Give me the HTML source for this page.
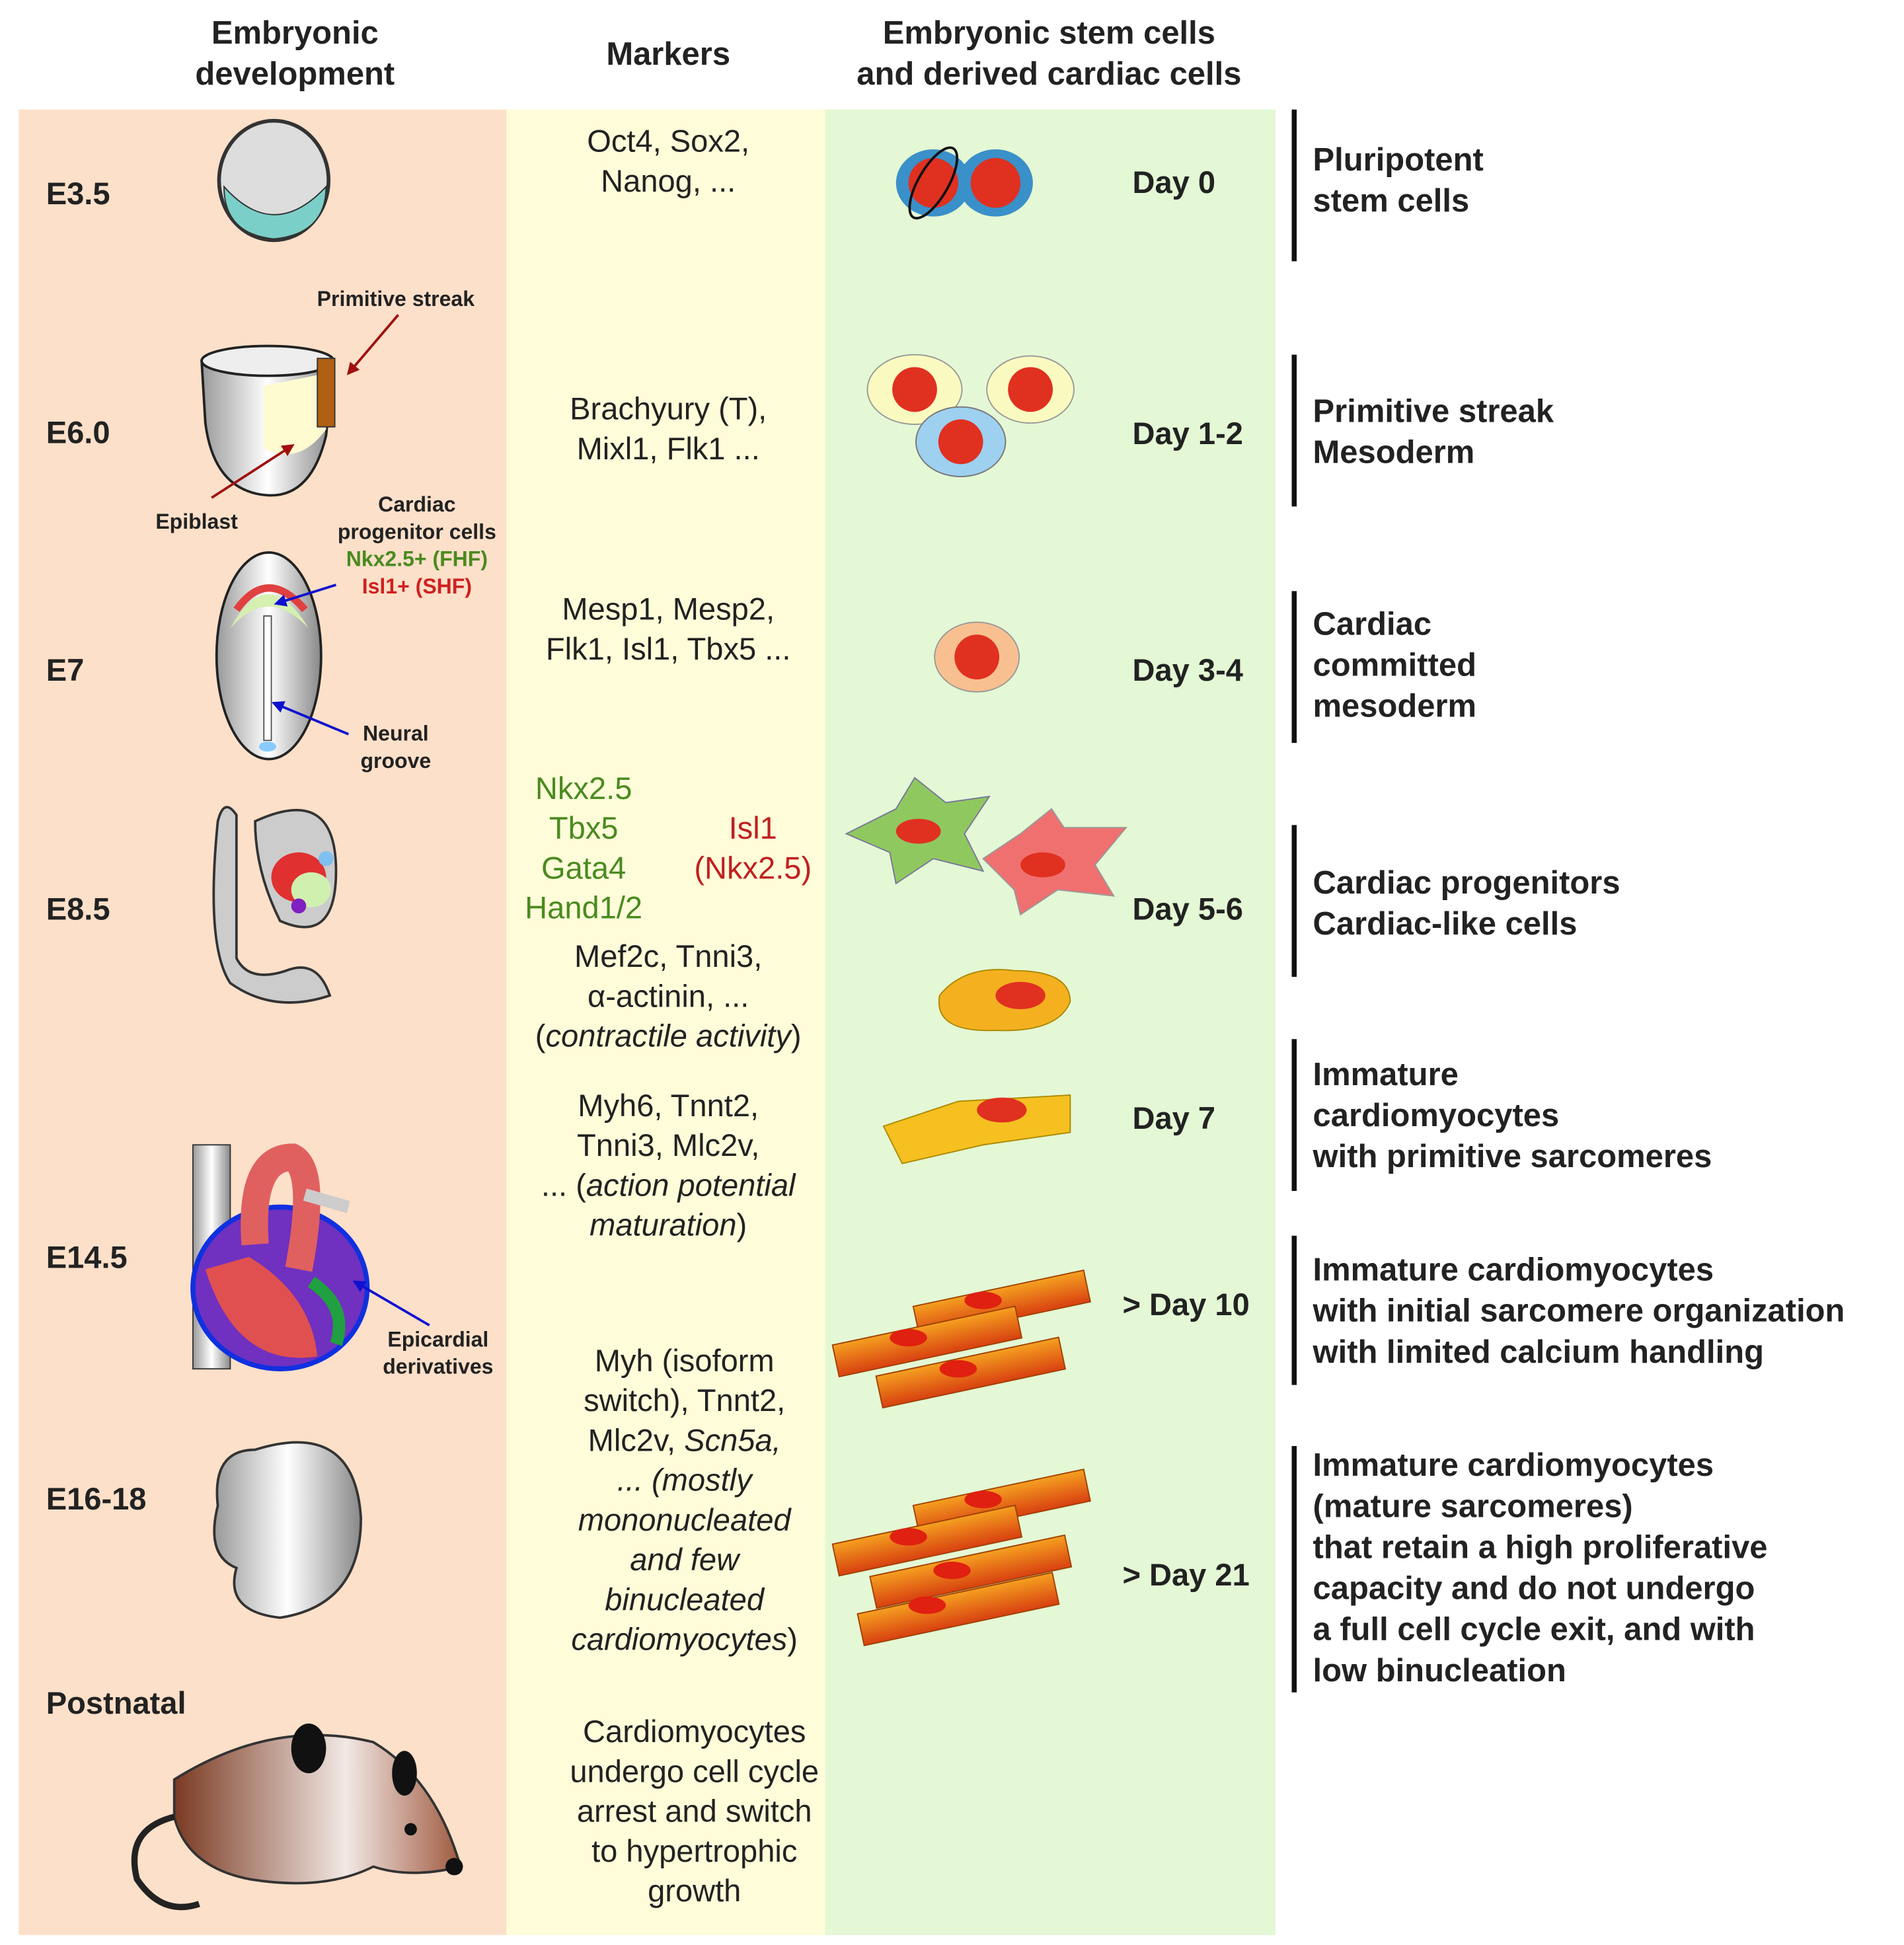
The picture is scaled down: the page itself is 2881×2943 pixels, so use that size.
<!DOCTYPE html>
<html><head><meta charset="utf-8"><style>
html,body{margin:0;padding:0;background:#fff}
svg{display:block}
text{font-family:"Liberation Sans",Arial,sans-serif;fill:#222}
.h{font-weight:bold;font-size:26px;text-anchor:middle}
.e{font-weight:bold;font-size:25px}
.m{font-size:25px;text-anchor:middle}
.d{font-weight:bold;font-size:25px}
.r{font-weight:bold;font-size:26px}
.s{font-weight:bold;font-size:17px;text-anchor:middle}
</style></head><body>
<svg width="2881" height="2943" viewBox="0 0 1530 1563" xmlns="http://www.w3.org/2000/svg">
<defs>
<linearGradient id="g1" x1="0" x2="1"><stop offset="0" stop-color="#999"/><stop offset=".5" stop-color="#fff"/><stop offset="1" stop-color="#888"/></linearGradient>
<linearGradient id="mouse" x1="0" x2="1"><stop offset="0" stop-color="#7a3a22"/><stop offset=".6" stop-color="#f2e8e4"/><stop offset="1" stop-color="#a05a40"/></linearGradient>
<linearGradient id="cm" x1="0" y1="0" x2="0" y2="1"><stop offset="0" stop-color="#f5a020"/><stop offset="1" stop-color="#d84010"/></linearGradient>
<marker id="ar" markerWidth="10" markerHeight="10" refX="8" refY="5" orient="auto" markerUnits="userSpaceOnUse"><path d="M0 0 L10 5 L0 10Z" fill="#a01010"/></marker>
<marker id="ab" markerWidth="10" markerHeight="10" refX="8" refY="5" orient="auto" markerUnits="userSpaceOnUse"><path d="M0 0 L10 5 L0 10Z" fill="#1010d0"/></marker>
</defs>
<rect x="15" y="88" width="392" height="1467" fill="#fde0c9"/>
<rect x="407" y="88" width="256" height="1467" fill="#fffcd9"/>
<rect x="663" y="88" width="362" height="1467" fill="#e4f8d5"/>

<text class="h" x="237" y="35">Embryonic</text><text class="h" x="237" y="68">development</text>
<text class="h" x="537" y="52">Markers</text>
<text class="h" x="843" y="35">Embryonic stem cells</text><text class="h" x="843" y="68">and derived cardiac cells</text>

<text class="e" x="37" y="164">E3.5</text><text class="e" x="37" y="356">E6.0</text><text class="e" x="37" y="547">E7</text>
<text class="e" x="37" y="739">E8.5</text><text class="e" x="37" y="1019">E14.5</text><text class="e" x="37" y="1213">E16-18</text>
<text class="e" x="37" y="1377">Postnatal</text>

<ellipse cx="220" cy="145" rx="44" ry="48" fill="#ddd" stroke="#333" stroke-width="3"/>
<path d="M180 150 Q220 195 262 150 Q262 188 220 192 Q180 188 180 150Z" fill="#7ad0c8" stroke="#333"/>
<path d="M162 290 Q215 275 268 290 L262 350 Q250 400 215 398 Q172 395 165 340Z" fill="url(#g1)" stroke="#222" stroke-width="2"/>
<ellipse cx="215" cy="290" rx="53" ry="12" fill="#eee" stroke="#222" stroke-width="2"/>
<path d="M212 310 L262 300 L262 345 Q240 375 212 360Z" fill="#fffbd0"/>
<rect x="255" y="288" width="14" height="55" fill="#b06010" stroke="#333"/>
<line x1="320" y1="253" x2="280" y2="300" stroke="#a01010" stroke-width="2" marker-end="url(#ar)"/>
<line x1="170" y1="400" x2="235" y2="358" stroke="#a01010" stroke-width="2" marker-end="url(#ar)"/>
<text class="s" x="318" y="246">Primitive streak</text><text class="s" x="158" y="425">Epiblast</text>
<text class="s" x="335" y="411">Cardiac</text><text class="s" x="335" y="433">progenitor cells</text>
<text class="s" x="335" y="455" style="fill:#4a8a20">Nkx2.5+ (FHF)</text><text class="s" x="335" y="477" style="fill:#d02020">Isl1+ (SHF)</text>
<ellipse cx="216" cy="527" rx="42" ry="83" fill="url(#g1)" stroke="#222" stroke-width="2"/>
<path d="M185 505 Q215 450 248 505 Q215 470 185 505Z" fill="#d5f0b0"/><path d="M190 490 Q215 455 245 490" stroke="#e04040" stroke-width="6" fill="none"/>
<rect x="212" y="495" width="6" height="100" fill="#fff" stroke="#555"/><ellipse cx="215" cy="600" rx="7" ry="4" fill="#8cf"/>
<line x1="270" y1="470" x2="222" y2="485" stroke="#1010d0" stroke-width="2" marker-end="url(#ab)"/>
<line x1="280" y1="590" x2="220" y2="565" stroke="#1010d0" stroke-width="2" marker-end="url(#ab)"/>
<text class="s" x="318" y="595">Neural</text><text class="s" x="318" y="617">groove</text>
<path d="M175 660 Q180 640 190 655 L190 770 Q200 790 230 780 Q255 770 265 800 Q220 815 185 790 Q165 760 175 660Z" fill="#ccc" stroke="#333" stroke-width="2"/>
<path d="M205 660 Q270 630 270 700 Q270 760 225 740 Q205 700 205 660Z" fill="#ccc" stroke="#333" stroke-width="2"/>
<ellipse cx="240" cy="705" rx="22" ry="20" fill="#e03030"/><ellipse cx="250" cy="715" rx="16" ry="14" fill="#d0f0b0"/><circle cx="262" cy="690" r="6" fill="#80c0f0"/><circle cx="240" cy="728" r="6" fill="#8020c0"/>
<rect x="155" y="920" width="30" height="180" fill="url(#g1)" stroke="#333"/>
<ellipse cx="225" cy="1035" rx="70" ry="65" fill="#7030c0" stroke="#1030e0" stroke-width="4"/>
<path d="M165 1020 Q190 1100 255 1090 Q250 1040 200 1010Z" fill="#e05050"/>
<path d="M250 1030 Q280 1050 270 1080" stroke="#20a040" stroke-width="10" fill="none"/>
<path d="M205 1000 Q200 930 235 930 Q255 940 240 1020" stroke="#e06060" stroke-width="22" fill="none"/>
<path d="M245 960 L280 970" stroke="#ccc" stroke-width="10"/>
<line x1="345" y1="1065" x2="285" y2="1030" stroke="#1010d0" stroke-width="2" marker-end="url(#ab)"/>
<text class="s" x="352" y="1082">Epicardial</text><text class="s" x="352" y="1104">derivatives</text>
<path d="M205 1165 Q285 1140 290 1220 Q290 1290 225 1300 Q180 1295 190 1260 Q165 1250 175 1210 Q170 1165 205 1165Z" fill="url(#g1)" stroke="#333" stroke-width="2"/>
<path d="M140 1430 Q220 1380 300 1400 Q350 1430 370 1500 Q330 1510 300 1500 Q260 1520 200 1510 Q150 1500 140 1460Z" fill="url(#mouse)" stroke="#333" stroke-width="2"/>
<path d="M140 1460 Q100 1470 110 1510 Q130 1540 160 1530" stroke="#222" stroke-width="5" fill="none"/>
<ellipse cx="248" cy="1405" rx="14" ry="20" fill="#111"/><ellipse cx="325" cy="1425" rx="10" ry="18" fill="#111"/><circle cx="330" cy="1470" r="5" fill="#111"/><circle cx="365" cy="1500" r="7" fill="#111"/>

<g class="m"><text class="m" x="537" y="122">Oct4, Sox2,</text><text class="m" x="537" y="154">Nanog, ...</text>
<text class="m" x="537" y="337">Brachyury (T),</text><text class="m" x="537" y="369">Mixl1, Flk1 ...</text>
<text class="m" x="537" y="498">Mesp1, Mesp2,</text><text class="m" x="537" y="530">Flk1, Isl1, Tbx5 ...</text>
<text class="m" x="469" y="642" style="fill:#4a8a20">Nkx2.5</text><text class="m" x="469" y="674" style="fill:#4a8a20">Tbx5</text>
<text class="m" x="469" y="706" style="fill:#4a8a20">Gata4</text><text class="m" x="469" y="738" style="fill:#4a8a20">Hand1/2</text>
<text class="m" x="605" y="674" style="fill:#c02020">Isl1</text><text class="m" x="605" y="706" style="fill:#c02020">(Nkx2.5)</text>
<text class="m" x="537" y="777">Mef2c, Tnni3,</text><text class="m" x="537" y="809">α-actinin, ...</text>
<text class="m" x="537" y="841">(<tspan font-style="italic">contractile activity</tspan>)</text>
<text class="m" x="537" y="897">Myh6, Tnnt2,</text><text class="m" x="537" y="929">Tnni3, Mlc2v,</text>
<text class="m" x="537" y="961">... (<tspan font-style="italic">action potential</tspan></text><text class="m" x="537" y="993"><tspan font-style="italic">maturation</tspan>)</text>
<text class="m" x="550" y="1102">Myh (isoform</text><text class="m" x="550" y="1134">switch), Tnnt2,</text>
<text class="m" x="550" y="1166">Mlc2v, <tspan font-style="italic">Scn5a,</tspan></text>
<text class="m" x="550" y="1198" font-style="italic">... (mostly</text><text class="m" x="550" y="1230" font-style="italic">mononucleated</text>
<text class="m" x="550" y="1262" font-style="italic">and few</text><text class="m" x="550" y="1294" font-style="italic">binucleated</text>
<text class="m" x="550" y="1326"><tspan font-style="italic">cardiomyocytes</tspan>)</text>
<text class="m" x="558" y="1400">Cardiomyocytes</text><text class="m" x="558" y="1432">undergo cell cycle</text>
<text class="m" x="558" y="1464">arrest and switch</text><text class="m" x="558" y="1496">to hypertrophic</text><text class="m" x="558" y="1528">growth</text></g>

<ellipse cx="750" cy="147" rx="30" ry="27" fill="#3a90c8"/><circle cx="750" cy="147" r="20" fill="#e03020"/>
<ellipse cx="800" cy="147" rx="30" ry="27" fill="#3a90c8"/><circle cx="800" cy="147" r="20" fill="#e03020"/>
<ellipse cx="750" cy="147" rx="12" ry="32" fill="none" stroke="#111" stroke-width="2" transform="rotate(30 750 147)"/>
<ellipse cx="735" cy="313" rx="38" ry="28" fill="#fafac0" stroke="#999"/><circle cx="735" cy="313" r="18" fill="#e03020"/>
<ellipse cx="828" cy="313" rx="35" ry="27" fill="#fafac0" stroke="#999"/><circle cx="828" cy="313" r="18" fill="#e03020"/>
<ellipse cx="772" cy="355" rx="36" ry="28" fill="#9ed0f0" stroke="#777"/><circle cx="772" cy="355" r="18" fill="#e03020"/>
<ellipse cx="785" cy="528" rx="34" ry="28" fill="#f8c090" stroke="#999"/><circle cx="785" cy="528" r="18" fill="#e03020"/>
<path d="M680 670 L720 650 L735 625 L760 645 L795 640 L775 670 L790 700 L750 690 L720 710 L715 685Z" fill="#90c860" stroke="#779"/><ellipse cx="738" cy="668" rx="18" ry="10" fill="#e03020"/>
<path d="M790 690 L820 670 L845 650 L855 665 L905 665 L880 695 L895 720 L850 715 L820 735 L815 715Z" fill="#f07070" stroke="#999"/><ellipse cx="838" cy="695" rx="18" ry="10" fill="#e03020"/>
<path d="M755 800 Q775 775 815 780 Q860 780 860 805 Q850 830 800 828 Q750 830 755 800Z" fill="#f5b020" stroke="#a80"/><ellipse cx="820" cy="800" rx="20" ry="11" fill="#e03020"/>
<path d="M710 905 L770 885 L860 880 L860 910 L790 920 L725 935Z" fill="#f5c020" stroke="#a80"/><ellipse cx="805" cy="892" rx="20" ry="10" fill="#e03020"/>
<g fill="url(#cm)" stroke="#a04000">
<rect x="735" y="1035" width="140" height="26" transform="rotate(-12 805 1048)"/>
<rect x="670" y="1065" width="150" height="26" transform="rotate(-12 745 1078)"/>
<rect x="705" y="1090" width="150" height="26" transform="rotate(-12 780 1103)"/>
<rect x="735" y="1195" width="140" height="26" transform="rotate(-12 805 1208)"/>
<rect x="670" y="1225" width="150" height="26" transform="rotate(-12 745 1238)"/>
<rect x="700" y="1250" width="160" height="26" transform="rotate(-12 780 1263)"/>
<rect x="690" y="1280" width="160" height="26" transform="rotate(-12 770 1293)"/>
</g>
<g fill="#e02010"><ellipse cx="790" cy="1045" rx="15" ry="7"/><ellipse cx="730" cy="1075" rx="15" ry="7"/><ellipse cx="770" cy="1100" rx="15" ry="7"/>
<ellipse cx="790" cy="1205" rx="15" ry="7"/><ellipse cx="730" cy="1235" rx="15" ry="7"/><ellipse cx="765" cy="1262" rx="15" ry="7"/><ellipse cx="745" cy="1290" rx="15" ry="7"/></g>

<text class="d" x="910" y="155">Day 0</text><text class="d" x="910" y="357">Day 1-2</text><text class="d" x="910" y="547">Day 3-4</text>
<text class="d" x="910" y="739">Day 5-6</text><text class="d" x="910" y="907">Day 7</text><text class="d" x="902" y="1057">&gt; Day 10</text><text class="d" x="902" y="1274">&gt; Day 21</text>

<g stroke="#111" stroke-width="4">
<line x1="1040" y1="88" x2="1040" y2="210"/><line x1="1040" y1="285" x2="1040" y2="407"/><line x1="1040" y1="475" x2="1040" y2="597"/>
<line x1="1040" y1="663" x2="1040" y2="785"/><line x1="1040" y1="835" x2="1040" y2="957"/><line x1="1040" y1="993" x2="1040" y2="1113"/><line x1="1040" y1="1162" x2="1040" y2="1360"/></g>
<g class="r"><text class="r" x="1055" y="137">Pluripotent</text><text class="r" x="1055" y="170">stem cells</text>
<text class="r" x="1055" y="339">Primitive streak</text><text class="r" x="1055" y="372">Mesoderm</text>
<text class="r" x="1055" y="510">Cardiac</text><text class="r" x="1055" y="543">committed</text><text class="r" x="1055" y="576">mesoderm</text>
<text class="r" x="1055" y="718">Cardiac progenitors</text><text class="r" x="1055" y="751">Cardiac-like cells</text>
<text class="r" x="1055" y="872">Immature</text><text class="r" x="1055" y="905">cardiomyocytes</text><text class="r" x="1055" y="938">with primitive sarcomeres</text>
<text class="r" x="1055" y="1029">Immature cardiomyocytes</text><text class="r" x="1055" y="1062">with initial sarcomere organization</text><text class="r" x="1055" y="1095">with limited calcium handling</text>
<text class="r" x="1055" y="1186">Immature cardiomyocytes</text><text class="r" x="1055" y="1219">(mature sarcomeres)</text><text class="r" x="1055" y="1252">that retain a high proliferative</text>
<text class="r" x="1055" y="1285">capacity and do not undergo</text><text class="r" x="1055" y="1318">a full cell cycle exit, and with</text><text class="r" x="1055" y="1351">low binucleation</text></g>
</svg>
</body></html>
